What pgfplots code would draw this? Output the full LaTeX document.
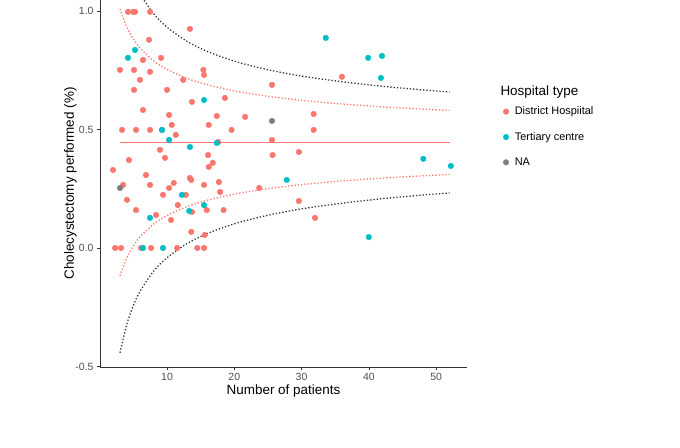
\documentclass[border=0pt]{standalone}
\usepackage{pgfplots}
\pgfplotsset{compat=1.18}
\usepackage{fontspec}
\setmainfont{Liberation Sans}
\definecolor{dh}{HTML}{F8766D}
\definecolor{tc}{HTML}{00BFC4}
\definecolor{na}{HTML}{7F7F7F}
\definecolor{tk}{HTML}{4D4D4D}
\begin{document}
\begin{tikzpicture}[x=1bp,y=1bp]
\path[use as bounding box] (0,0) rectangle (680,448);
\begin{axis}[at={(100bp,81bp)}, anchor=south west, scale only axis,
 width=367bp, height=367bp,
 xmin=0.03, xmax=54.6, ymin=-0.502, ymax=1.046,
 axis lines=left, axis line style={-, black!80, line width=0.6pt},
 xtick={10,20,30,40,50}, ytick={-0.5,0,0.5,1},
 yticklabels={-0.5,0.0,0.5,1.0},
 tick align=outside, tick style={black!80, line width=0.5pt}, major tick length=3bp,
 ticklabel style={font=\fontsize{10.5}{12}\selectfont, text=tk},
 /pgf/number format/assume math mode=true,
 xlabel={Number of patients}, ylabel={Cholecystectomy performed (\%)},
 label style={font=\fontsize{13.5}{15}\selectfont},
 xlabel style={yshift=3bp}, ylabel style={yshift=-8bp},
 clip=true,
 legend style={at={(1.09,0.72)}, anchor=north west, draw=none, fill=none,
   font=\fontsize{11}{13}\selectfont, row sep=12bp,
   nodes={inner xsep=6bp}},
 legend cell align=left,
]
\addplot[only marks, mark=*, mark size=2.8bp, color=dh] coordinates {
(1.97,0.329)(2.27,0)(3.16,0)(3.0,0.751)(3.31,0.498)(3.46,0.266)(4.19,0.996)(4.94,0.996)(5.23,0.996)(7.47,0.996)
(4.04,0.203)(4.34,0.371)(5.09,0.667)(5.09,0.751)(5.39,0.498)(5.39,0.160)(5.98,0.709)(6.13,0)(6.42,0.582)(6.42,0.793)
(6.87,0.308)(7.32,0.878)(7.47,0.743)(7.47,0.498)(7.47,0.266)(7.62,0)(8.36,0.139)(8.96,0.414)(9.11,0.802)(9.25,0.498)
(9.4,0.224)(9.7,0.380)(10,0.667)(10.3,0.253)(10.6,0.118)(10.3,0.561)(10.7,0.519)(11.0,0.274)(11.3,0.477)(11.5,0)
(11.6,0.181)(12.4,0.709)(12.8,0.224)(13.4,0.924)(13.4,0.295)(13.6,0.068)(13.6,0.287)(13.7,0.152)(13.7,0.616)(14.5,0)
(15.5,0)(15.4,0.751)(15.5,0.730)(15.5,0.266)(15.6,0.055)(15.9,0.160)(16.1,0.392)(16.2,0.519)(16.2,0.342)(16.8,0.359)
(17.4,0.557)(17.6,0.447)(17.7,0.278)(17.9,0.236)(18.4,0.160)(18.6,0.633)(19.6,0.498)(21.6,0.553)(23.7,0.253)(25.6,0.688)
(25.6,0.456)(25.7,0.392)(29.6,0.405)(29.6,0.198)(31.8,0.498)(31.8,0.565)(32.0,0.127)(36.0,0.722)};
\addlegendentry{District Hospiital}
\addplot[only marks, mark=*, mark size=2.8bp, color=tc] coordinates {
(4.19,0.802)(5.23,0.835)(7.47,0.127)(6.42,0)(9.4,0)(9.25,0.498)(10.3,0.456)(13.4,0.426)(12.2,0.224)(13.3,0.156)
(15.5,0.624)(15.5,0.181)(17.4,0.443)(27.8,0.287)(33.6,0.886)(39.9,0.802)(41.96,0.810)(41.8,0.717)(40.0,0.046)(48.1,0.376)(52.2,0.346)};
\addlegendentry{Tertiary centre}
\addplot[only marks, mark=*, mark size=2.8bp, color=na] coordinates {(3.0,0.253)(25.6,0.536)};
\addlegendentry{NA}
\addplot[dh, line width=1pt, forget plot] coordinates {(3,0.445)(52,0.445)};
\addplot[dh, dotted, line width=1.3pt, smooth, forget plot] coordinates {
(3,1.0075)(4,0.932)(5,0.8807)(6,0.8427)(8,0.7894)(10,0.7531)(13,0.7151)(16,0.6886)(20,0.6628)(25,0.6398)(30,0.6228)(35,0.6096)(40,0.5991)(45,0.5902)(52,0.58)};
\addplot[dh, dotted, line width=1.3pt, smooth, forget plot] coordinates {
(3,-0.1175)(4,-0.042)(5,0.0093)(6,0.0473)(8,0.1006)(10,0.1369)(13,0.1749)(16,0.2014)(20,0.2272)(25,0.2502)(30,0.2672)(35,0.2804)(40,0.2909)(45,0.2998)(52,0.31)};
\addplot[black!80, dotted, line width=1.3pt, smooth, forget plot] coordinates {
(3,1.33)(4,1.213)(5,1.132)(6,1.072)(8,0.988)(10,0.931)(13,0.871)(16,0.829)(20,0.788)(25,0.752)(30,0.725)(35,0.705)(40,0.688)(45,0.674)(52,0.658)};
\addplot[black!80, dotted, line width=1.3pt, smooth, forget plot] coordinates {
(3,-0.442)(4,-0.323)(5,-0.242)(6,-0.182)(8,-0.098)(10,-0.041)(13,0.019)(16,0.061)(20,0.102)(25,0.138)(30,0.165)(35,0.185)(40,0.202)(45,0.216)(52,0.232)};
\end{axis}
\node[anchor=west, font=\fontsize{13.5}{15}\selectfont] at (497,356) {Hospital type};
\end{tikzpicture}
\end{document}
